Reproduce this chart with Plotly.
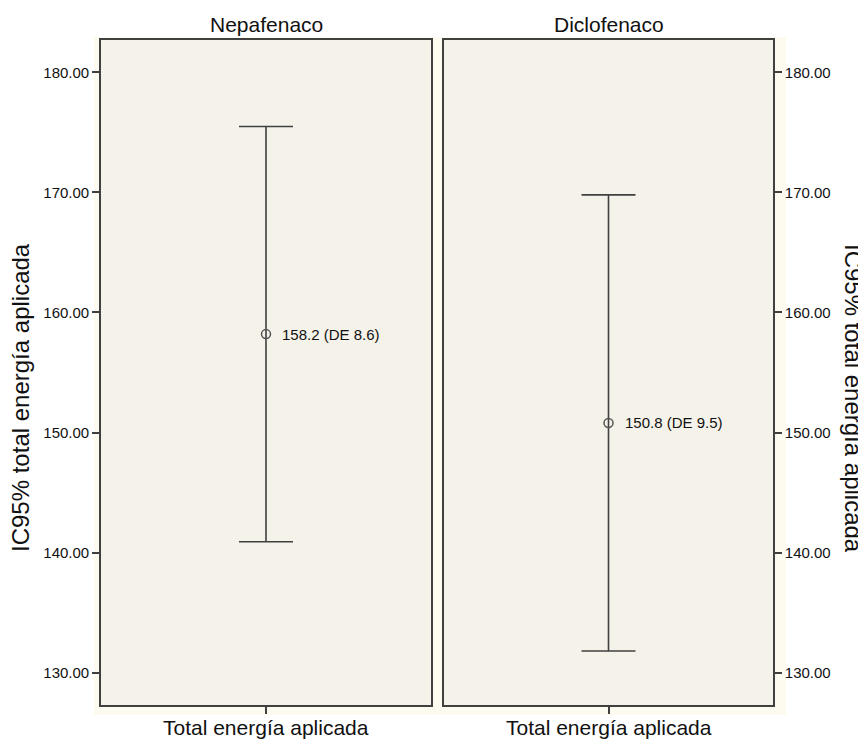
import plotly.graph_objects as go
from plotly.subplots import make_subplots

groups = ["Nepafenaco", "Diclofenaco"]
means = [158.2, 150.8]
sds = [8.6, 9.5]
ci_low = [140.9, 131.8]
ci_high = [175.5, 169.8]
y_ticks = [130, 140, 150, 160, 170, 180]
x_label = "Total energía aplicada"
y_label = "IC95% total energía aplicada"

# the page body adds an 8px offset; size the figure to the visible area
OFF = 8
W, H = 866 - OFF, 740 - OFF
fig = make_subplots(rows=1, cols=2)

line_col = "#404040"
txt_col = "#111111"
font_fam = "Liberation Sans, Arial, Helvetica, sans-serif"


def px(x):
    return (x - OFF) / W


def py(y):
    return 1 - (y - OFF) / H


x_domains = [[px(101), px(431)], [px(444), px(773)]]
y_domain = [py(705), py(40)]

# outer pale background
fig.add_shape(type="rect", xref="paper", yref="paper",
              x0=px(94), x1=px(786), y0=py(715), y1=py(37),
              fillcolor="#fdfbf0", line=dict(width=0), layer="below")

for i, g in enumerate(groups):
    xr = "x" if i == 0 else "x2"
    yr = "y" if i == 0 else "y2"
    fig.add_shape(type="rect", xref=xr + " domain", yref=yr + " domain",
                  x0=0, x1=1, y0=0, y1=1, fillcolor="#f5f2ea",
                  line=dict(width=0), layer="below")
    fig.add_trace(go.Scatter(
        x=[0], y=[means[i]], mode="markers",
        marker=dict(symbol="circle-open", size=9, color="#555555", line=dict(width=1.5)),
        error_y=dict(type="data", symmetric=False,
                     array=[ci_high[i] - means[i]],
                     arrayminus=[means[i] - ci_low[i]],
                     color=line_col, thickness=1.6, width=27),
        showlegend=False, hoverinfo="skip"), row=1, col=i + 1)
    fig.add_annotation(x=0, y=means[i], xref=xr, yref=yr,
                       text=f"{means[i]:.1f} (DE {sds[i]:.1f})", showarrow=False,
                       xanchor="left", xshift=14, font=dict(size=15, color=txt_col))
    # panel title
    fig.add_annotation(x=sum(x_domains[i]) / 2, y=py(24), xref="paper", yref="paper",
                       text=g, showarrow=False, xanchor="center", yanchor="middle",
                       font=dict(size=21, color=txt_col))
    # x-axis title
    fig.add_annotation(x=sum(x_domains[i]) / 2, y=py(727), xref="paper", yref="paper",
                       text=x_label, showarrow=False, xanchor="center", yanchor="middle",
                       font=dict(size=21, color=txt_col))

# y-axis titles
fig.add_annotation(x=px(20), y=py(398), xref="paper", yref="paper", text=y_label,
                   showarrow=False, textangle=-90, xanchor="center", yanchor="middle",
                   font=dict(size=24, color=txt_col))
fig.add_annotation(x=px(854), y=py(398), xref="paper", yref="paper", text=y_label,
                   showarrow=False, textangle=90, xanchor="center", yanchor="middle",
                   font=dict(size=24, color=txt_col))

for i in range(2):
    fig.update_xaxes(domain=x_domains[i], range=[-1, 1], tickvals=[0], ticktext=[""],
                     ticks="outside", ticklen=7, tickwidth=1.5, tickcolor=line_col,
                     showgrid=False, zeroline=False, showline=True, mirror=True,
                     linecolor=line_col, linewidth=1.6, automargin=False,
                     row=1, col=i + 1)
    fig.update_yaxes(domain=y_domain, range=[127.3, 182.7], tickvals=y_ticks,
                     tickformat=".2f", ticks="outside", ticklen=7, tickwidth=1.5,
                     tickcolor=line_col, showgrid=False, zeroline=False,
                     showline=True, mirror=True, linecolor=line_col, linewidth=1.6,
                     tickfont=dict(size=15, color=txt_col), automargin=False,
                     side="left" if i == 0 else "right",
                     row=1, col=i + 1)

fig.update_layout(width=W, height=H, margin=dict(l=0, r=0, t=0, b=0),
                  paper_bgcolor="white", plot_bgcolor="rgba(0,0,0,0)",
                  font=dict(family=font_fam, color=txt_col))

fig.write_html("out.html")
